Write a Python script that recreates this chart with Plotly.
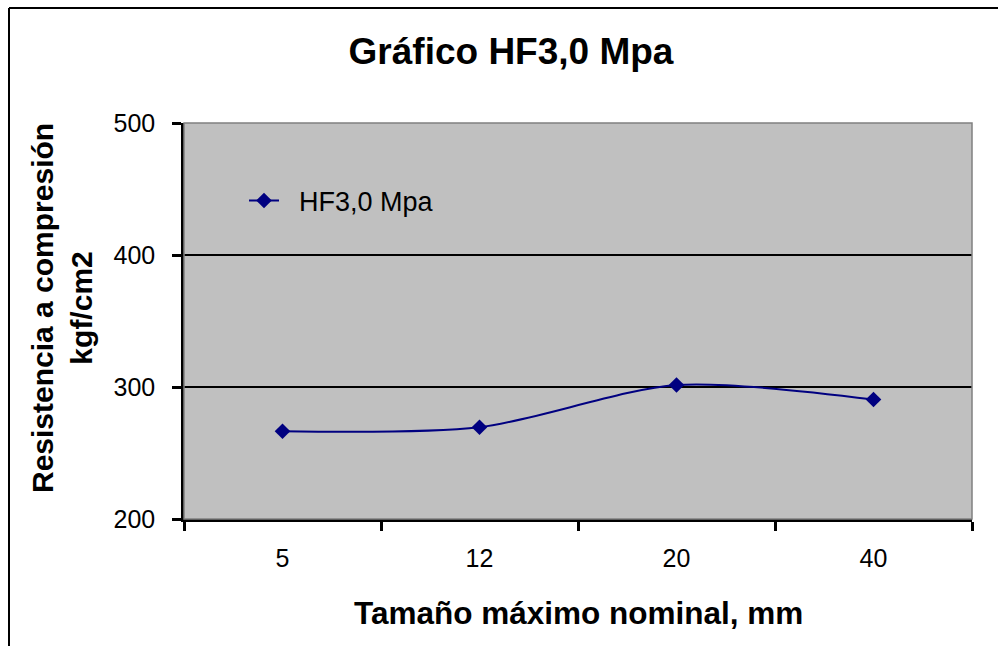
import plotly.graph_objects as go

categories = ["5", "12", "20", "40"]
values = [266.5, 269.5, 301.5, 290.5]
series_name = "HF3,0 Mpa"
y_ticks = [200, 300, 400, 500]

W, H = 998, 646
L, R, T, B = 184, 26, 123, 127
pw, ph = W - L - R, H - T - B

def px_x(px):
    return (px - L) / pw

def px_y(py):
    return (H - B - py) / ph

FONT = "Liberation Sans, Arial, sans-serif"
NAVY = "#000080"

fig = go.Figure()
fig.add_trace(go.Scatter(
    x=list(range(len(categories))), y=values,
    name="\u00a0\u00a0" + series_name,
    mode="lines+markers",
    line=dict(color=NAVY, width=2, shape="spline", smoothing=0.8),
    marker=dict(symbol="diamond", size=12, color=NAVY),
))

shapes = [
    # plot-area border (gray)
    dict(type="rect", xref="paper", yref="paper", x0=0, x1=1, y0=0, y1=1,
         line=dict(color="#808080", width=1.5), layer="above"),
    # outer chart frame
    dict(type="line", xref="paper", yref="paper", x0=px_x(9), x1=px_x(9),
         y0=px_y(8), y1=px_y(800), line=dict(color="black", width=2)),
    dict(type="line", xref="paper", yref="paper", x0=px_x(9), x1=px_x(1200),
         y0=px_y(8), y1=px_y(8), line=dict(color="black", width=2)),
]

fig.update_layout(
    width=W, height=H,
    margin=dict(l=L, r=R, t=T, b=B, autoexpand=False),
    paper_bgcolor="white", plot_bgcolor="#C0C0C0",
    font=dict(family=FONT, size=25, color="black"),
    showlegend=True,
    legend=dict(x=px_x(244), y=px_y(201), xanchor="left", yanchor="middle",
                bgcolor="rgba(0,0,0,0)", font=dict(size=27, family=FONT)),
    title=dict(text="<b>Gráfico HF3,0 Mpa</b>", x=511 / W, xref="container",
               y=1 - 51 / H, yref="container", xanchor="center", yanchor="middle",
               font=dict(size=37, family=FONT)),
    shapes=shapes,
    annotations=[
        dict(text="<b>Tamaño máximo nominal, mm</b>", xref="paper", yref="paper",
             x=px_x(578), y=px_y(613), xanchor="center", yanchor="middle",
             showarrow=False, font=dict(size=31.5, family=FONT)),
        dict(text="<b>Resistencia a compresión<br>kgf/cm2</b>", xref="paper", yref="paper",
             x=px_x(62), y=px_y(308), xanchor="center", yanchor="middle",
             textangle=-90, showarrow=False, font=dict(size=30, family=FONT)),
    ],
)

fig.update_xaxes(
    range=[-0.5, len(categories) - 0.5],
    tickvals=list(range(len(categories))), ticktext=categories,
    ticks="", showgrid=False, zeroline=False,
    showline=True, linecolor="black", linewidth=2.5,
    ticklabelstandoff=15,
    minor=dict(tickvals=[i - 0.5 for i in range(len(categories) + 1)],
               ticks="outside", ticklen=9, tickwidth=2.5, tickcolor="black",
               showgrid=False),
    tickfont=dict(size=25, family=FONT),
)
fig.update_yaxes(
    range=[200, 500], tickvals=y_ticks,
    ticks="outside", ticklen=9, tickwidth=2.5, tickcolor="black",
    showgrid=True, gridcolor="black", gridwidth=1.5,
    zeroline=False, showline=True, linecolor="black", linewidth=2.5,
    ticklabelstandoff=12,
    tickfont=dict(size=25, family=FONT),
)

fig.write_html("out.html")
